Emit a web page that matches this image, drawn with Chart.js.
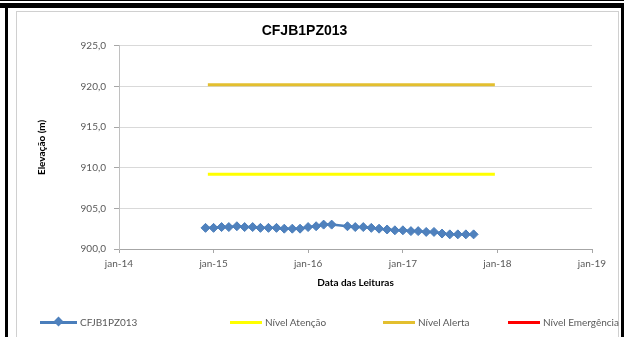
<!DOCTYPE html>
<html>
<head>
<meta charset="utf-8">
<script src="https://cdn.jsdelivr.net/npm/chart.js@4.4.1/dist/chart.umd.min.js"></script>
<style>
  html, body { margin: 0; padding: 0; background: #fff; }
  body { width: 624px; height: 337px; position: relative; overflow: hidden; font-family: Lato, "Open Sans", sans-serif; }
  .rule { position: absolute; background: #000; }
  .frame { position: absolute; left: 16px; top: 11px; width: 601px; height: 340px; border: 1px solid #d0d0d0; }
  #wrap { position: absolute; left: 17px; top: 12px; width: 601px; height: 325px; }
  #legend { position: absolute; left: 0; top: 314px; width: 624px; height: 16px; font-size: 10px; color: #595959; }
  .item { position: absolute; top: 0; height: 16px; line-height: 16px; white-space: nowrap; }
  .swatch { display: inline-block; position: relative; width: 32px; height: 16px; vertical-align: top; margin-right: 3px; }
  .swatch.wide { width: 37px; }
  .swatch .ln { position: absolute; left: 0; right: 0; top: 7px; height: 3px; }
  .swatch .mk { position: absolute; left: 15px; top: 4px; width: 7px; height: 7px; transform: rotate(45deg); }
</style>
</head>
<body>
<div class="rule" style="left:0;top:0;width:624px;height:1px"></div>
<div class="rule" style="left:0;top:3px;width:624px;height:5px"></div>
<div class="rule" style="left:5px;top:8px;width:3px;height:329px"></div>
<div class="rule" style="left:621px;top:8px;width:3px;height:329px"></div>
<div class="frame"></div>
<div id="wrap"><canvas id="chart" width="601" height="325"></canvas></div>
<div id="legend"></div>

<script>
// Piezometer readings (monthly)
const readingDates = [
  '2014-12-01', '2015-01-01', '2015-02-01', '2015-03-01', '2015-04-01', '2015-05-01',
  '2015-06-01', '2015-07-01', '2015-08-01', '2015-09-01', '2015-10-01', '2015-11-01',
  '2015-12-01', '2016-01-01', '2016-02-01', '2016-03-01', '2016-04-01', '2016-06-01',
  '2016-07-01', '2016-08-01', '2016-09-01', '2016-10-01', '2016-11-01', '2016-12-01',
  '2017-01-01', '2017-02-01', '2017-03-01', '2017-04-01', '2017-05-01', '2017-06-01',
  '2017-07-01', '2017-08-01', '2017-09-01', '2017-10-01'
];
const elevation = [
  902.6, 902.6, 902.7, 902.7, 902.8, 902.7,
  902.7, 902.6, 902.6, 902.6, 902.5, 902.5,
  902.5, 902.7, 902.8, 903.0, 903.0, 902.8,
  902.7, 902.7, 902.6, 902.5, 902.4, 902.3,
  902.3, 902.2, 902.2, 902.1, 902.1, 901.9,
  901.8, 901.8, 901.8, 901.8
];

// Alarm levels
const levelDates = ['2014-12-10', '2017-12-22'];
const nivelAtencao = [909.2, 909.2];
const nivelAlerta = [920.2, 920.2];
const nivelEmergencia = [];

// Axes
const xTickDates = ['2014-01-01', '2015-01-01', '2016-01-01', '2017-01-01', '2018-01-01', '2019-01-01'];
const xTickLabels = ['jan-14', 'jan-15', 'jan-16', 'jan-17', 'jan-18', 'jan-19'];
const yMin = 900, yMax = 925, yStep = 5;

const toPoints = (dates, values) => values.map((v, i) => ({ x: Date.parse(dates[i]), y: v }));

const tickFont = { family: 'Lato', size: 10 };
const axisTitleFont = { family: 'Lato', size: 10, weight: 'bold' };

const chart = new Chart(document.getElementById('chart'), {
  type: 'line',
  data: {
    datasets: [
      {
        label: 'CFJB1PZ013',
        data: toPoints(readingDates, elevation),
        borderColor: '#4a7ebb',
        backgroundColor: '#4f81bd',
        borderWidth: 2.5,
        pointStyle: 'rectRot',
        pointRadius: 4.5,
        pointBorderWidth: 1,
        pointBorderColor: '#4a7ebb',
        pointBackgroundColor: '#4f81bd'
      },
      {
        label: 'Nível Atenção',
        data: toPoints(levelDates, nivelAtencao),
        borderColor: '#ffff00',
        borderWidth: 3,
        pointRadius: 0
      },
      {
        label: 'Nível Alerta',
        data: toPoints(levelDates, nivelAlerta),
        borderColor: '#e3bf2f',
        borderWidth: 3,
        pointRadius: 0
      },
      {
        label: 'Nível Emergência',
        data: toPoints(levelDates, nivelEmergencia),
        borderColor: '#ff0000',
        borderWidth: 3,
        pointRadius: 0
      }
    ]
  },
  options: {
    responsive: false,
    animation: false,
    layout: { padding: { top: 0, right: 26, bottom: 0, left: 0 } },
    plugins: {
      legend: { display: false },
      tooltip: { enabled: false },
      title: {
        display: true,
        text: 'CFJB1PZ013',
        color: '#000',
        font: { family: 'Liberation Sans', size: 14, weight: 'bold' },
        padding: { top: 11, bottom: 6 }
      }
    },
    scales: {
      x: {
        type: 'linear',
        min: Date.parse(xTickDates[0]),
        max: Date.parse(xTickDates[xTickDates.length - 1]),
        afterBuildTicks: s => { s.ticks = xTickDates.map(d => ({ value: Date.parse(d) })); },
        afterFit: s => { s.height = 88; },
        ticks: {
          autoSkip: false, maxRotation: 0, padding: 5,
          color: '#595959', font: tickFont,
          callback: (v, i) => xTickLabels[i]
        },
        grid: { drawOnChartArea: false, tickLength: 4, color: '#a6a6a6' },
        border: { color: '#a6a6a6' },
        title: {
          display: true, text: 'Data das Leituras', color: '#000',
          font: axisTitleFont, padding: { top: 0, bottom: 48 }
        }
      },
      y: {
        min: yMin, max: yMax,
        afterFit: s => { s.width = 102; },
        ticks: {
          stepSize: yStep, padding: 8, color: '#595959', font: tickFont,
          callback: v => v.toFixed(1).replace('.', ',')
        },
        grid: { color: '#d9d9d9', tickLength: 5, tickColor: '#a6a6a6' },
        border: { color: '#c0c0c0' },
        title: {
          display: true, text: 'Elevação (m)', color: '#000',
          font: axisTitleFont, padding: { top: 19, bottom: 0 }
        }
      }
    }
  }
});

// Legend row under the chart
const legendLeft = [40, 230, 383, 508];
const legend = document.getElementById('legend');
chart.data.datasets.forEach((ds, i) => {
  const item = document.createElement('div');
  item.className = 'item';
  item.style.left = legendLeft[i] + 'px';
  const sw = document.createElement('span');
  sw.className = ds.pointRadius ? 'swatch wide' : 'swatch';
  sw.innerHTML = '<span class="ln" style="background:' + ds.borderColor + '"></span>' +
    (ds.pointRadius ? '<span class="mk" style="background:' + ds.pointBackgroundColor + '"></span>' : '');
  item.appendChild(sw);
  item.appendChild(document.createTextNode(ds.label));
  legend.appendChild(item);
});
</script>
</body>
</html>
